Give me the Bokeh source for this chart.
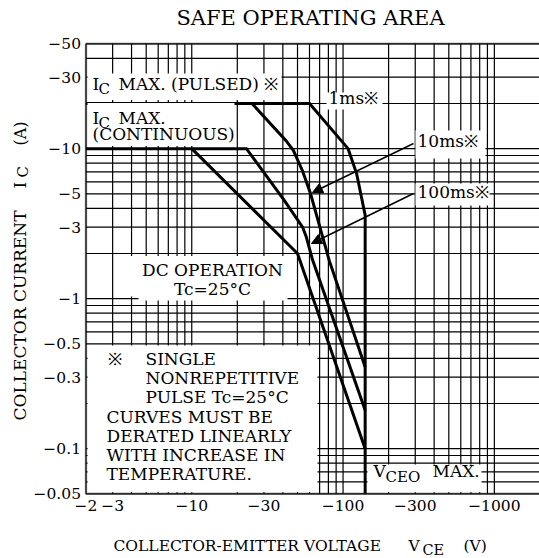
import math
from bokeh.plotting import figure
from bokeh.models import FixedTicker, Label, Arrow, NormalHead, BoxAnnotation, Range1d
from bokeh.embed import file_html
from bokeh.resources import INLINE

# ---------------- data (|V_CE| in volts, |I_C| in amperes) ----------------
VCEO_MAX = 140
ms1_v = [2, 60, 108, 123, 140, 140]
ms1_i = [20, 20, 10, 6.8, 3.6, 0.05]
ms10_v = [25, 42, 47, 54, 61, 81, 140]
ms10_i = [20, 11.3, 9.7, 7.1, 5.0, 1.8, 0.35]
ms100_v = [2, 23, 41, 54, 57, 63, 140]
ms100_i = [10, 10, 4.5, 3.0, 2.6, 1.8, 0.18]
dc_v = [10, 50, 140]
dc_i = [10, 2, 0.1]

x_ticks = [2, 3, 10, 30, 100, 300, 1000]
x_tick_labels = ["−2", "−3", "−10", "−30", "−100", "−300", "−1000"]
x_minor = [4, 5, 6, 7, 8, 9, 20, 40, 50, 60, 70, 80, 90,
           200, 400, 500, 600, 700, 800, 900]
y_ticks = [0.05, 0.1, 0.3, 0.5, 1, 3, 5, 10, 30, 50]
y_tick_labels = ["−0.05", "−0.1", "−0.3", "−0.5", "−1", "−3", "−5", "−10", "−30", "−50"]
y_minor = [0.06, 0.07, 0.08, 0.09, 0.2, 0.4, 0.6, 0.7, 0.8, 0.9,
           2, 4, 6, 7, 8, 9, 20, 40]

# ---------------- geometry ----------------
W, H = 539, 558
X_MIN, Y_MIN, Y_MAX = 2, 0.05, 50
PX_LEFT, PX_TOP = 85.5, 43.3     # where V=2 and I=50 sit on the page
X_DEC, Y_DEC = 151.3, 150.0     # px per decade

def xd(px):  # page pixel -> data value (for annotation placement / ranges)
    return X_MIN * 10 ** ((px - PX_LEFT) / X_DEC)

def yd(py):
    return Y_MAX * 10 ** (-(py - PX_TOP) / Y_DEC)

FONT = "DejaVu Serif"

p = figure(width=W, height=H, x_axis_type="log", y_axis_type="log",
           x_range=Range1d(xd(0), xd(W)), y_range=Range1d(yd(H), yd(0)),
           output_backend="svg", toolbar_location=None, title=None,
           min_border=0, min_border_left=0, min_border_right=0,
           min_border_top=0, min_border_bottom=0)
p.background_fill_color = "white"
p.border_fill_color = "white"
p.outline_line_color = None
p.xgrid.visible = False
p.ygrid.visible = False

# axes drawn at the plot-area edges
p.xaxis.fixed_location = Y_MIN
p.yaxis.fixed_location = X_MIN
p.xaxis.ticker = FixedTicker(ticks=x_ticks, minor_ticks=[])
p.yaxis.ticker = FixedTicker(ticks=y_ticks, minor_ticks=[])
p.xaxis.major_label_overrides = {t: l for t, l in zip(x_ticks, x_tick_labels)}
p.yaxis.major_label_overrides = {t: l for t, l in zip(y_ticks, y_tick_labels)}
for ax in (p.xaxis, p.yaxis):
    ax.axis_line_color = None
    ax.major_tick_line_color = None
    ax.minor_tick_line_color = None
    ax.major_tick_out = 0
    ax.major_tick_in = 0
    ax.minor_tick_out = 0
    ax.minor_tick_in = 0
    ax.major_label_text_font = FONT
    ax.major_label_text_font_size = "15.5px"
    ax.major_label_text_color = "black"
p.xaxis.major_label_standoff = 6
p.yaxis.major_label_standoff = 5

# grid, bounded to the plot area
x_end = xd(W + 5)
gx = sorted(x_ticks + x_minor)
gy = sorted(y_ticks + y_minor)
p.segment(x0=gx, y0=[Y_MIN] * len(gx), x1=gx, y1=[Y_MAX] * len(gx),
          line_color="black", line_width=1.2)
p.segment(x0=[X_MIN] * len(gy), y0=gy, x1=[x_end] * len(gy), y1=gy,
          line_color="black", line_width=1.2)

# curves
for vs, cs in ((ms1_v, ms1_i), (ms10_v, ms10_i), (ms100_v, ms100_i), (dc_v, dc_i)):
    p.line(vs, cs, line_color="black", line_width=3, line_join="miter")

# white label areas that interrupt the grid
boxes = [
    (87, 281, 73, 99.5),
    (87, 234, 102.5, 145.5),
    (326, 382, 92, 109),
    (415, 485, 130, 158),
    (415, 489, 183, 205),
    (121, 289, 255.5, 296),
    (138, 287, 295, 300),
    (87, 317, 345, 491.8),
    (367, 481, 464, 491.8),
]
for (l, r, t, b) in boxes:
    p.add_layout(BoxAnnotation(left=xd(l), right=xd(r), top=yd(t), bottom=yd(b),
                               fill_color="white", fill_alpha=1, line_color=None))

# plot-area border
p.add_layout(BoxAnnotation(left=X_MIN, right=x_end, top=Y_MAX, bottom=Y_MIN,
                           fill_color=None, fill_alpha=0,
                           line_color="black", line_width=2.5))

# arrows
for (sx, sy, ex, ey) in ((413, 143, 312, 192), (413, 193, 311, 243)):
    p.add_layout(Arrow(end=NormalHead(size=10, fill_color="black", line_color="black"),
                       x_start=xd(sx), y_start=yd(sy), x_end=xd(ex), y_end=yd(ey),
                       line_width=1.5, line_color="black"))

BASE_SHIFT = 0.43  # renderer places the baseline about this many em lower

def lab(text, px, py, size=17, align="left", angle=0.0):
    if angle:
        px = px - BASE_SHIFT * size
    else:
        py = py - BASE_SHIFT * size
    p.add_layout(Label(x=xd(px), y=yd(py), text=text, text_font=FONT,
                       text_font_size=f"{size}px", text_align=align,
                       text_baseline="alphabetic", angle=angle,
                       text_color="black"))

lab("SAFE OPERATING AREA", 310, 27, 21, "center")

lab("I", 92, 91); lab("C", 98, 95, 15); lab("MAX. (PULSED) ※", 118, 91)
lab("I", 92, 125); lab("C", 98, 129, 15); lab("MAX.", 118, 125)
lab("(CONTINUOUS)", 92, 141)

lab("1ms※", 328, 105)
lab("10ms※", 417, 148)
lab("100ms※", 417, 199)

lab("DC OPERATION", 212, 277, align="center")
lab("Tc=25°C", 212, 296, align="center")

lab("※", 107, 366); lab("SINGLE", 145, 366)
lab("NONREPETITIVE", 145, 385)
lab("PULSE Tc=25°C", 145, 404)
lab("CURVES MUST BE", 106, 424)
lab("DERATED LINEARLY", 106, 443)
lab("WITH INCREASE IN", 106, 462)
lab("TEMPERATURE.", 106, 481)

lab("V", 373, 478); lab("CEO", 385, 483, 15); lab("MAX.", 432, 478)

lab("COLLECTOR-EMITTER VOLTAGE", 113, 552, 15.5)
lab("V", 408, 552, 15.5); lab("CE", 422, 556, 14.5); lab("(V)", 463, 552, 15.5)

A = math.pi / 2
lab("COLLECTOR CURRENT", 27, 420, 17, angle=A)
lab("I", 27, 188, 17, angle=A)
lab("C", 29, 177, 15, angle=A)
lab("(A)", 27, 145, 16, angle=A)

open("out.html", "w").write(file_html(p, INLINE))
